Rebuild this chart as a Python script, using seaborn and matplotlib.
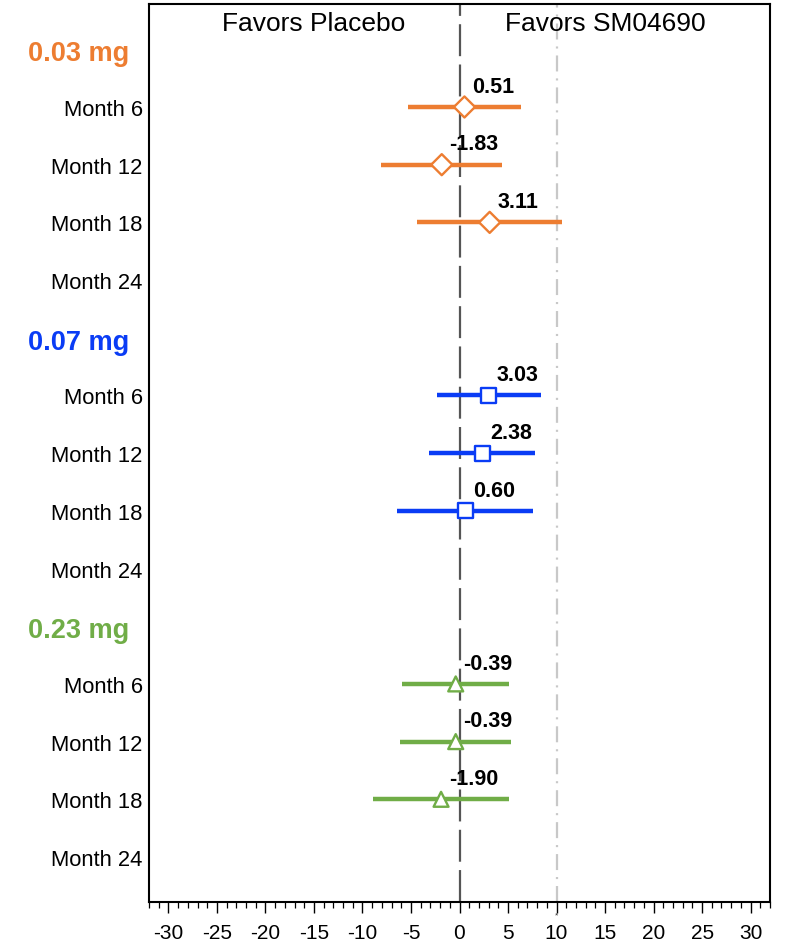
import numpy as np
import pandas as pd
import matplotlib
matplotlib.use("Agg")
import matplotlib.pyplot as plt
import seaborn as sns
from matplotlib.transforms import blended_transform_factory
from matplotlib.ticker import MultipleLocator

sns.set_theme(style="white")
plt.rcParams["font.family"] = ["Liberation Sans", "DejaVu Sans"]
plt.rcParams["axes.unicode_minus"] = False
plt.rcParams["lines.scale_dashes"] = False

# Dose groups and visits
groups = ["0.03 mg", "0.07 mg", "0.23 mg"]
group_colors = ["#ED7D31", "#0A3CF5", "#70AD47"]
group_markers = ["D", "s", "^"]
visits = ["Month 6", "Month 12", "Month 18", "Month 24"]

# Difference vs placebo (point estimate and 95% CI); Month 24 not reported
est_003 = [0.51, -1.83, 3.11]
lo_003 = [-5.3, -8.1, -4.4]
hi_003 = [6.3, 4.4, 10.6]

est_007 = [3.03, 2.38, 0.60]
lo_007 = [-2.3, -3.1, -6.4]
hi_007 = [8.4, 7.8, 7.6]

est_023 = [-0.39, -0.39, -1.90]
lo_023 = [-5.9, -6.1, -8.9]
hi_023 = [5.1, 5.3, 5.1]

x_ticks = list(range(-30, 31, 5))
header_left = "Favors Placebo"
header_right = "Favors SM04690"

estimates = [est_003, est_007, est_023]
lows = [lo_003, lo_007, lo_023]
highs = [hi_003, hi_007, hi_023]

# Row layout: each group header followed by its visits
records = []
tick_rows, tick_labels, group_rows = [], [], []
for g, name in enumerate(groups):
    base = g * (len(visits) + 1)
    group_rows.append(base)
    for v, visit in enumerate(visits):
        row = base + v + 1
        tick_rows.append(row)
        tick_labels.append(visit)
        if v < len(estimates[g]):
            records.append(dict(group=name, visit=visit, row=row,
                                est=estimates[g][v], lo=lows[g][v], hi=highs[g][v]))
df = pd.DataFrame(records)

fig = plt.figure(figsize=(7.92, 9.45), dpi=100)
ax = fig.add_axes([149 / 792, 1 - 903 / 945, (770 - 149) / 792, (903 - 5) / 945])

# Reference lines
ax.axvline(0, color="#555555", lw=1.6, dashes=(23, 6), zorder=1)
ax.axvline(10, color="#c8c8c8", lw=1.6, dashes=(11.5, 5, 1.5, 5), zorder=1)

# Confidence intervals
palette = dict(zip(groups, group_colors))
for name, sub in df.groupby("group", sort=False):
    ax.hlines(sub["row"], sub["lo"], sub["hi"], colors=palette[name], lw=3.2, zorder=2)

# Point estimates as hollow markers
sns.scatterplot(data=df, x="est", y="row", hue="group", style="group",
                palette=palette, markers=dict(zip(groups, group_markers)),
                s=115, linewidth=1.7, legend=False, ax=ax, zorder=3)
pts = ax.collections[-1]
fc = pts.get_facecolors()
pts.set_edgecolors(fc)
pts.set_facecolors("white")

# Value labels
for _, r in df.iterrows():
    ax.annotate(f"{r['est']:.2f}", (r["est"], r["row"]), xytext=(5.5, 11),
                textcoords="offset points", ha="left", va="baseline",
                fontsize=15.5, fontweight="bold", color="black", zorder=4)

# Axes limits and ticks
ax.set_xlim(-32, 32)
ax.set_ylim(14.78, -0.785)
ax.set_xticks(x_ticks)
ax.set_xticklabels([str(t) for t in x_ticks])
ax.xaxis.set_minor_locator(MultipleLocator(1))
ax.tick_params(axis="x", which="major", direction="out", length=8, width=1,
               labelsize=15, pad=7, bottom=True, colors="black")
ax.tick_params(axis="x", which="minor", direction="out", length=4.3, width=0.9,
               bottom=True, colors="black")
ax.set_yticks(tick_rows)
ax.set_yticklabels(tick_labels)
ax.tick_params(axis="y", length=0, pad=4.5, labelsize=15.8, labelcolor="black")
ax.set_xlabel("")
ax.set_ylabel("")
for sp in ax.spines.values():
    sp.set_visible(True)
    sp.set_color("black")
    sp.set_linewidth(1.5)

# Small marker under the 10 tick
ax.annotate("*", (10, 0), xycoords=("data", "axes fraction"), xytext=(0, -9.5),
            textcoords="offset points", ha="center", va="center", fontsize=6,
            color="#333333", annotation_clip=False)

# Group headers on the left
trans = blended_transform_factory(fig.transFigure, ax.transData)
for name, row, col in zip(groups, group_rows, group_colors):
    ax.text(28 / 792, row + 0.07, name, transform=trans, ha="left", va="center",
            fontsize=19.5, fontweight="bold", color=col, clip_on=False)

# Direction headers
ax.text(-15, -0.45, header_left, ha="center", va="center", fontsize=19, color="black")
ax.text(15, -0.45, header_right, ha="center", va="center", fontsize=19, color="black")

fig.savefig("out.png", dpi=100)
